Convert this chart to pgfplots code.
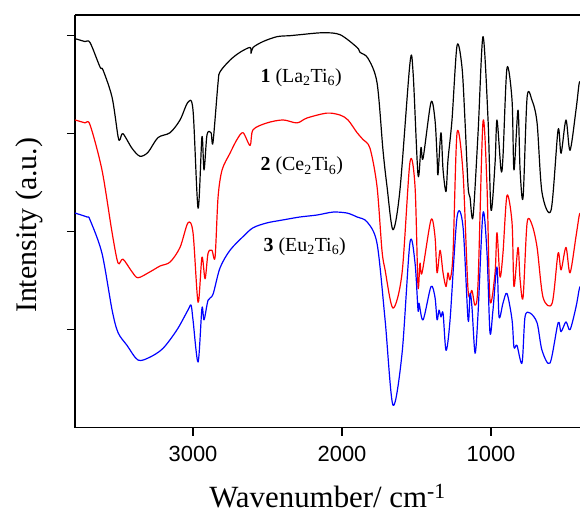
\documentclass[border=0pt]{standalone}
\usepackage{fontspec}
\setmainfont{Liberation Serif}
\setsansfont{Liberation Sans}
\usepackage{pgfplots}
\pgfplotsset{compat=1.18}
\begin{document}
\begin{tikzpicture}
\begin{axis}[
  scale only axis,
  width=505bp, height=412.7bp,
  x dir=reverse,
  xmin=403, xmax=3792,
  ymin=0, ymax=4.211,
  axis x line*=bottom, axis y line*=left,
  axis line style={-, line width=1.6pt},
  tick align=outside,
  major tick length=8bp,
  every tick/.style={black, line width=1.2pt},
  xtick={1000,2000,3000},
  ytick={1,2,3,4},
  yticklabels={},
  /pgf/number format/1000 sep={},
  /pgf/number format/assume math mode=true,
  xticklabel style={font=\fontsize{22}{22}\selectfont\sffamily, yshift=-7bp},
  xlabel={Wavenumber/ cm\textsuperscript{-1}},
  ylabel={Intensity (a.u.)},
  xlabel style={font=\fontsize{31}{31}\selectfont, yshift=-16bp},
  ylabel style={font=\fontsize{30}{30}\selectfont, yshift=14bp, xshift=-4bp},
  every axis plot/.append style={line width=1.2pt, line join=round, smooth, tension=0.5},
]
\addplot[black] coordinates {
(3792,3.97)(3725,3.94)(3691,3.93)(3624,3.68)(3604,3.65)(3543,3.37)(3503,2.97)(3490,2.94)
(3470,3.00)(3409,2.85)(3356,2.77)(3302,2.81)(3235,2.96)(3154,3.01)(3087,3.14)(3034,3.32)
(3000,3.24)(2966,2.24)(2940,2.97)(2926,2.63)(2906,2.99)(2879,3.01)(2866,2.91)(2832,3.52)
(2819,3.63)(2752,3.75)(2685,3.83)(2617,3.88)(2611,3.82)(2597,3.88)(2530,3.94)(2436,3.99)
(2349,4.00)(2282,4.01)(2128,4.03)(2013,4.01)(1899,3.88)(1879,3.83)(1826,3.77)(1765,3.52)
(1725,2.83)(1698,2.46)(1658,2.02)(1611,2.43)(1544,3.72)(1523,3.62)(1490,2.58)(1470,2.86)
(1456,2.75)(1403,3.32)(1376,3.14)(1362,2.76)(1356,2.58)(1336,3.01)(1322,2.63)(1302,2.41)
(1289,2.73)(1262,3.14)(1228,3.90)(1195,3.68)(1175,3.14)(1154,2.46)(1141,2.35)(1121,2.15)
(1087,3.01)(1054,3.99)(1020,3.14)(1000,2.22)(973,2.70)(960,3.14)(933,2.63)(920,2.76)
(893,3.67)(859,3.34)(846,2.63)(819,3.24)(805,2.63)(785,2.35)(758,3.37)(725,3.34)
(691,3.11)(658,2.40)(597,2.22)(550,3.04)(530,2.80)(497,3.14)(470,2.83)(430,3.24)
(410,3.50)(403,3.53)
};
\addplot[red] coordinates {
(3792,3.14)(3725,3.11)(3691,3.09)(3611,2.63)(3543,1.99)(3503,1.68)(3470,1.72)(3409,1.59)
(3369,1.53)(3289,1.59)(3221,1.65)(3154,1.69)(3087,1.84)(3034,2.09)(3000,1.99)(2966,1.28)
(2940,1.74)(2919,1.52)(2899,1.78)(2873,1.81)(2852,1.74)(2832,2.35)(2805,2.63)(2752,2.80)
(2705,2.94)(2664,3.01)(2617,2.88)(2597,3.04)(2503,3.11)(2396,3.14)(2302,3.11)(2235,3.16)
(2101,3.21)(2013,3.19)(1960,3.14)(1899,3.01)(1859,2.94)(1812,2.85)(1765,2.46)(1732,1.81)
(1711,1.61)(1658,1.22)(1597,1.58)(1544,2.71)(1510,2.46)(1490,1.44)(1477,1.68)(1463,1.58)
(1403,2.12)(1376,1.95)(1362,1.58)(1342,1.81)(1322,1.58)(1302,1.44)(1289,1.58)(1275,1.51)
(1255,1.78)(1228,3.01)(1188,2.60)(1154,1.40)(1128,1.40)(1107,1.25)(1087,1.48)(1054,3.12)
(1027,2.46)(1007,1.30)(973,1.58)(960,1.99)(940,1.54)(920,1.78)(893,2.37)(859,2.09)
(846,1.44)(819,1.84)(805,1.51)(785,1.33)(758,2.09)(725,2.07)(691,1.84)(651,1.33)
(590,1.27)(550,1.78)(530,1.61)(497,1.84)(470,1.58)(430,1.95)(410,2.15)(403,2.19)
};
\addplot[blue] coordinates {
(3792,2.19)(3711,2.15)(3691,2.12)(3611,1.78)(3543,1.20)(3503,0.97)(3443,0.84)(3369,0.69)
(3289,0.72)(3201,0.81)(3107,1.00)(3034,1.20)(3013,1.25)(3000,1.10)(2966,0.67)(2940,1.22)
(2926,1.10)(2899,1.30)(2866,1.36)(2819,1.63)(2752,1.81)(2664,1.95)(2597,2.04)(2503,2.09)
(2396,2.12)(2282,2.15)(2168,2.17)(2060,2.20)(1966,2.19)(1899,2.15)(1832,2.10)(1765,1.88)
(1711,1.10)(1658,0.23)(1597,0.76)(1544,1.89)(1510,1.68)(1490,1.20)(1483,1.27)(1456,1.10)
(1403,1.44)(1376,1.33)(1362,1.10)(1349,1.20)(1336,1.13)(1322,1.17)(1302,0.79)(1275,1.10)
(1228,2.15)(1188,2.05)(1154,1.10)(1141,1.37)(1128,1.23)(1107,0.76)(1087,1.17)(1054,2.19)
(1027,1.78)(1007,0.97)(987,1.20)(960,1.64)(946,1.13)(920,1.27)(893,1.37)(859,1.10)
(846,0.82)(826,0.84)(792,0.66)(772,1.13)(738,1.17)(691,1.07)(658,0.79)(604,0.66)
(550,1.07)(530,0.98)(497,1.08)(470,1.00)(430,1.23)(410,1.40)(403,1.44)
};
\draw[line width=1.6pt] (rel axis cs:0,1) -- (rel axis cs:1,1);
\node[anchor=base west, font=\fontsize{20}{20}\selectfont] at (axis cs:2570,3.52) {\textbf{1} (La\textsubscript{2}Ti\textsubscript{6})};
\node[anchor=base west, font=\fontsize{20}{20}\selectfont] at (axis cs:2570,2.62) {\textbf{2} (Ce\textsubscript{2}Ti\textsubscript{6})};
\node[anchor=base west, font=\fontsize{20}{20}\selectfont] at (axis cs:2550,1.80) {\textbf{3} (Eu\textsubscript{2}Ti\textsubscript{6})};
\end{axis}
\pgfresetboundingbox
\path (-75bp,-88.3bp) rectangle (505bp,427.7bp);
\end{tikzpicture}
\end{document}
